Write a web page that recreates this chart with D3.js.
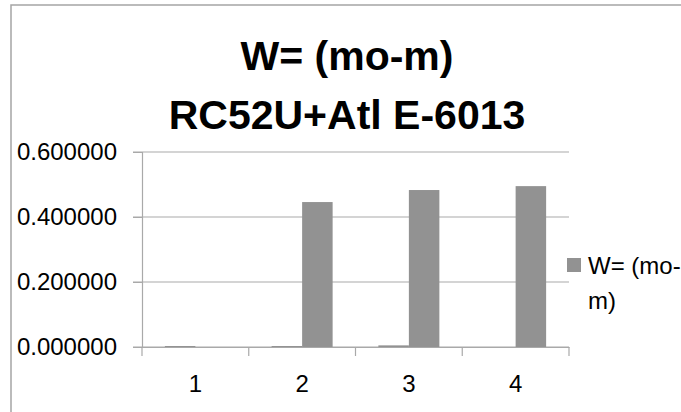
<!DOCTYPE html>
<html lang="en">
<head>
    <meta charset="UTF-8">
    <title>W= (mo-m)</title>
    <script src="https://d3js.org/d3.v7.min.js"></script>
    <style>
        body { margin: 0; background: #fff; }
        text { font-family: "Liberation Sans", Arial, sans-serif; fill: #000; }
    </style>
</head>
<body>

<script>
    // chart data
    var categories = ["1", "2", "3", "4"];
    var seriesNames = ["s0", "W= (mo-m)"];
    var smallValues = [0.003, 0.003, 0.005, 0.0];
    var wValues = [0.0, 0.446, 0.483, 0.495];
    var yTicks = [0, 0.2, 0.4, 0.6];
    var titleLines = ["W= (mo-m)", "RC52U+Atl E-6013"];
    var legendLines = ["W= (mo-", "m)"];

    var width = 681;
    var height = 412;
    var plotLeft = 142, plotRight = 569, plotTop = 152, plotBottom = 347;

    var rows = categories.map(function(c, i) {
        return {cat: c, values: [smallValues[i], wValues[i]]};
    });

    var svg = d3.select("body").append("svg")
        .attr("width", width)
        .attr("height", height);

    // outer chart frame
    svg.append("rect")
        .attr("x", 11).attr("y", 5)
        .attr("width", width + 20).attr("height", height + 20)
        .attr("fill", "none")
        .attr("stroke", "#a5a5a5")
        .attr("stroke-width", 1.5);

    var x0 = d3.scaleBand().domain(categories).range([plotLeft, plotRight])
        .paddingInner(0.4286).paddingOuter(0.2143);
    var x1 = d3.scaleBand().domain(d3.range(seriesNames.length)).range([0, x0.bandwidth()]);
    var y = d3.scaleLinear().domain([0, 0.6]).range([plotBottom, plotTop]);

    // gridlines
    svg.append("g").selectAll("line").data(yTicks).enter().append("line")
        .attr("x1", plotLeft - 9).attr("x2", plotRight)
        .attr("y1", function(d) { return y(d); })
        .attr("y2", function(d) { return y(d); })
        .attr("stroke", "#a9a9a9").attr("stroke-width", 1.2);

    // bars
    svg.append("g").selectAll("g").data(rows).enter().append("g")
        .attr("transform", function(d) { return "translate(" + x0(d.cat) + ",0)"; })
        .selectAll("rect").data(function(d) { return d.values; }).enter().append("rect")
        .attr("x", function(d, i) { return x1(i); })
        .attr("width", x1.bandwidth())
        .attr("y", function(d) { return y(d); })
        .attr("height", function(d) { return plotBottom - y(d); })
        .attr("fill", "#929292");

    // y axis
    var yAxis = svg.append("g").attr("transform", "translate(" + plotLeft + ",0)")
        .call(d3.axisLeft(y).tickValues(yTicks).tickFormat(d3.format(".6f")).tickSize(9).tickPadding(16));
    yAxis.select(".domain").attr("stroke", "#a9a9a9").attr("stroke-width", 1.2);
    yAxis.selectAll(".tick line").attr("stroke", "#a9a9a9");
    yAxis.selectAll("text").attr("font-size", 24).attr("font-family", "Liberation Sans");

    // x axis
    var xBand = d3.scaleBand().domain(categories).range([plotLeft, plotRight]);
    var xAxis = svg.append("g").attr("transform", "translate(0," + plotBottom + ")")
        .call(d3.axisBottom(xBand).tickSize(0).tickPadding(28));
    xAxis.select(".domain").attr("stroke", "#a9a9a9").attr("stroke-width", 1.2);
    xAxis.selectAll("text").attr("font-size", 24).attr("font-family", "Liberation Sans");
    // tick marks between categories
    var edges = categories.map(function(c) { return xBand(c); }).concat([plotRight]);
    svg.append("g").selectAll("line").data(edges).enter().append("line")
        .attr("x1", function(d) { return d; }).attr("x2", function(d) { return d; })
        .attr("y1", plotBottom).attr("y2", plotBottom + 9)
        .attr("stroke", "#a9a9a9").attr("stroke-width", 1.2);

    // title
    svg.append("text")
        .attr("text-anchor", "middle")
        .attr("font-size", 41).attr("font-weight", "bold")
        .selectAll("tspan").data(titleLines).enter().append("tspan")
        .attr("x", 347)
        .attr("y", function(d, i) { return 70 + i * 59; })
        .text(function(d) { return d; });

    // legend
    svg.append("rect")
        .attr("x", 567).attr("y", 258).attr("width", 14).attr("height", 14)
        .attr("fill", "#929292");
    svg.append("text")
        .attr("font-size", 24)
        .selectAll("tspan").data(legendLines).enter().append("tspan")
        .attr("x", 588)
        .attr("y", function(d, i) { return 274 + i * 35; })
        .text(function(d) { return d; });
</script>
</body>
</html>
